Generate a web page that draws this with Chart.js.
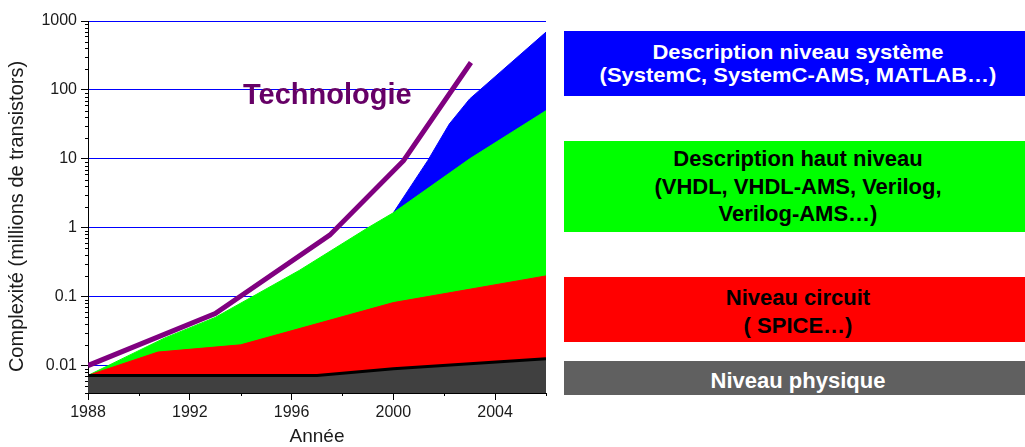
<!DOCTYPE html>
<html>
<head>
<meta charset="utf-8">
<script src="https://cdn.jsdelivr.net/npm/chart.js@4/dist/chart.umd.min.js"></script>
<style>
  html, body { margin: 0; padding: 0; background: #fff; overflow: hidden; }
  #wrap { position: absolute; left: 0; top: 0; width: 1025px; height: 447px; }
  .box { position: absolute; left: 564px; width: 468px; display: flex; align-items: center; justify-content: center;
         text-align: center; font-family: "Liberation Sans", Arial, sans-serif; font-weight: bold; font-size: 22px; box-sizing: border-box; }
</style>
</head>
<body>
<div id="wrap"><canvas id="c"></canvas></div>
<div class="box" style="top:31px;height:65px;background:#0000ff;color:#fff;line-height:26px;">
  <div style="transform:scaleY(0.88)">Description niveau système<br>(SystemC, SystemC-AMS, MATLAB…)</div></div>
<div class="box" style="top:141px;height:91px;background:#00ff00;color:#000;line-height:27.5px;">
  <div>Description haut niveau<br>(VHDL, VHDL-AMS, Verilog,<br>Verilog-AMS…)</div></div>
<div class="box" style="top:277px;height:65px;background:#ff0000;color:#000;line-height:27.4px;padding-top:4px;">
  <div>Niveau circuit<br>( SPICE…)</div></div>
<div class="box" style="top:361px;height:34px;background:#606060;color:#fff;line-height:27px;padding-top:5px;">
  <div>Niveau physique</div></div>
<script>
// ---- data ----
const physYears    = [1988, 1997, 2000, 2006];
const physVals     = [0.0072, 0.0072, 0.009, 0.0126];
const circuitYears = [1988, 1990.75, 1994, 2000, 2006];
const circuitVals  = [0.0072, 0.0157, 0.02, 0.082, 0.2];
const highYears    = [1988, 1991, 1993, 1996.3, 1999, 2000, 2003, 2006];
const highVals     = [0.0072, 0.025, 0.05, 0.24, 1.0, 1.65, 10, 50];
const sysYears     = [2000, 2001.35, 2002.2, 2003, 2006];
const sysVals      = [1.65, 9.4, 32, 74, 690];
const techYears    = [1988, 1993, 1997.5, 2000.4, 2003.05];
const techVals     = [0.01, 0.057, 0.78, 9.4, 250];
const xTickLabels  = ['1988', '1992', '1996', '2000', '2004'];
const yTickLabels  = ['0.01', '0.1', '1', '10', '100', '1000'];
const techLabel    = 'Technologie';
const yTitle       = 'Complexité (millions de transistors)';
const xTitle       = 'Année';

const pts = (xs, ys) => xs.map((x, i) => ({ x: x, y: ys[i] }));
const isMajorY = v => Math.abs(Math.log10(v) - Math.round(Math.log10(v))) < 1e-6;
const isMajorX = v => xTickLabels.includes(String(v));

const FONT = '"Liberation Sans", Arial, sans-serif';
Chart.defaults.font.family = FONT;

const extras = {
  id: 'extras',
  afterDraw(chart) {
    const ctx = chart.ctx, xs = chart.scales.x, ys = chart.scales.y, ca = chart.chartArea;
    ctx.save();
    ctx.strokeStyle = '#000'; ctx.lineWidth = 1;
    ctx.beginPath();
    ys.ticks.forEach(t => {
      if (!isMajorY(t.value)) {
        const y = Math.round(ys.getPixelForValue(t.value)) + 0.5;
        ctx.moveTo(ca.left - 3, y); ctx.lineTo(ca.left, y);
      }
    });
    xs.ticks.forEach(t => {
      if (!isMajorX(t.value)) {
        const x = Math.round(xs.getPixelForValue(t.value)) + 0.5;
        ctx.moveTo(x, ca.bottom); ctx.lineTo(x, ca.bottom + 3);
      }
    });
    ctx.stroke();
    // y axis title
    ctx.fillStyle = '#1a1a1a';
    ctx.font = '20px ' + FONT;
    ctx.translate(17.5, 216.5);
    ctx.rotate(-Math.PI / 2);
    ctx.textAlign = 'center'; ctx.textBaseline = 'middle';
    ctx.fillText(yTitle, 0, 0);
    ctx.restore();
    // Technologie annotation
    ctx.save();
    ctx.fillStyle = '#660066';
    ctx.font = 'bold 29px ' + FONT;
    ctx.textAlign = 'left'; ctx.textBaseline = 'alphabetic';
    ctx.fillText(techLabel, 243, 103.5);
    ctx.restore();
  }
};

const area = (data, color, order) => ({
  data, order, fill: 'start', backgroundColor: color, borderColor: color, borderWidth: 1,
  pointRadius: 0, pointHoverRadius: 0, tension: 0
});

new Chart(document.getElementById('c'), {
  type: 'line',
  data: {
    datasets: [
      { data: pts(techYears, techVals), order: 0, fill: false, borderColor: '#800080', borderWidth: 5,
        borderCapStyle: 'butt', pointRadius: 0, pointHoverRadius: 0, tension: 0 },
      Object.assign(area(pts(physYears, physVals), '#404040', 1), { borderColor: '#000', borderWidth: 3 }),
      area(pts(circuitYears, circuitVals), '#ff0000', 2),
      area(pts(highYears, highVals), '#00ff00', 3),
      area(pts(sysYears, sysVals), '#0000ff', 4)
    ]
  },
  options: {
    responsive: true, maintainAspectRatio: false, animation: false, events: [],
    devicePixelRatio: 1,
    layout: { padding: { left: 0, top: 21, right: 479, bottom: 0 } },
    plugins: { legend: { display: false }, tooltip: { enabled: false } },
    scales: {
      x: {
        type: 'linear', min: 1988, max: 2006,
        afterBuildTicks: s => { const t = []; for (let v = 1988; v <= 2006; v += 2) t.push({ value: v }); s.ticks = t; },
        afterFit: s => { s.height = 54; },
        grid: { color: 'rgba(0,0,0,0)', tickColor: c => (c.tick && isMajorX(c.tick.value)) ? '#000' : 'rgba(0,0,0,0)', tickLength: 7, drawOnChartArea: false },
        border: { display: true, color: '#000', width: 1 },
        ticks: { autoSkip: false, maxRotation: 0, padding: 3, color: '#1a1a1a', font: { size: 16 },
                 callback: v => isMajorX(v) ? String(v) : '' },
        title: { display: true, text: xTitle, color: '#1a1a1a', font: { size: 19, lineHeight: 1 }, padding: { top: 0, bottom: 1 } }
      },
      y: {
        type: 'logarithmic', min: 0.004, max: 1000,
        afterBuildTicks: s => {
          const t = [];
          for (let e = -3; e <= 3; e++) for (let m = 1; m <= 9; m++) {
            const v = Number((m * Math.pow(10, e)).toPrecision(3));
            if (v >= 0.004 - 1e-12 && v <= 1000 + 1e-9) t.push({ value: v });
          }
          s.ticks = t;
        },
        afterFit: s => { s.width = 88; },
        grid: { color: c => (c.tick && isMajorY(c.tick.value)) ? '#0000ff' : 'rgba(0,0,0,0)',
                tickColor: c => (c.tick && isMajorY(c.tick.value)) ? '#000' : 'rgba(0,0,0,0)', tickLength: 7 },
        border: { display: true, color: '#000', width: 1 },
        ticks: { autoSkip: false, padding: 4, color: '#1a1a1a', font: { size: 16 },
                 callback: v => { if (!isMajorY(v)) return ''; const l = yTickLabels.find(s => Math.abs(parseFloat(s) - v) < v * 1e-6); return l || ''; } }
      }
    }
  },
  plugins: [extras]
});
</script>
</body>
</html>
